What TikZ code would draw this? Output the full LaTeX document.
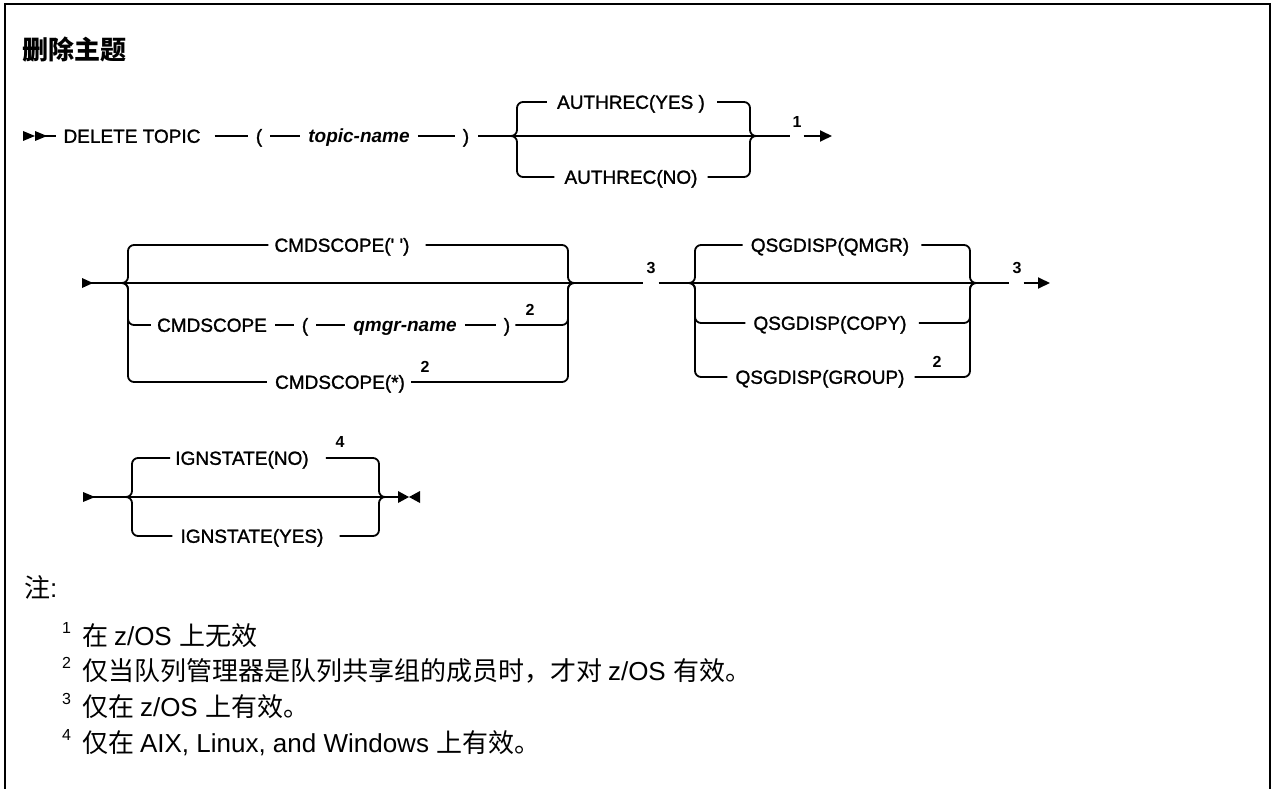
\documentclass[tikz,border=0pt]{standalone}
\usepackage{fontspec}
\usetikzlibrary{arrows.meta,calc}
\newfontfamily\diagfont[FakeBold=1.3]{Liberation Sans}
\newfontfamily\plainsans{Liberation Sans}
\newfontfamily\cjkfont{Noto Sans CJK SC}
\begin{document}
\begin{tikzpicture}[x=1pt,y=-1pt,
  rr/.style={line width=1.8pt},
  seg/.style={rr, shorten <=8pt, shorten >=8pt},
  brace/.style={rr, rounded corners=6pt},
  kw/.style={font=\diagfont\fontsize{19}{22}\selectfont, inner sep=0pt, text height=13.6pt, text depth=0pt},
  var/.style={kw, font=\plainsans\bfseries\itshape\fontsize{19}{22}\selectfont},
  fnm/.style={font=\plainsans\bfseries\fontsize{16}{18}\selectfont, inner sep=0pt},
  note/.style={font=\cjkfont\fontsize{26}{30}\selectfont, inner sep=0pt, anchor=base west},
  notesup/.style={font=\plainsans\fontsize{16}{18}\selectfont, inner sep=0pt, anchor=base west},
  tip/.style={-{Triangle[length=12pt,width=11pt]}}
]
\useasboundingbox (0,0) rectangle (1274,789);
% frame (open at the bottom)
\draw[line width=2pt] (5,789) -- (5,4) -- (1270,4) -- (1270,789);

% title
\node[anchor=west, inner sep=0pt, font=\cjkfont\bfseries\fontsize{26}{30}\selectfont] (title) at (22,50) {删除主题};

% ---------------- row 1 ----------------
\fill (23,131) -- (35,136) -- (23,141) -- cycle;
\fill (35,131) -- (47,136) -- (35,141) -- cycle;
\coordinate (s1) at (40,136);
\node[kw] (dt) at (132,136) {DELETE TOPIC};
\node[kw] (lp1) at (259,136) {(};
\node[var] (tn) at (359,136) {topic-name};
\node[kw] (rp1) at (466,136) {)};
\draw[rr] (s1) -- ([xshift=-7]dt.west);
\draw[seg, shorten <=14pt] (dt.east) -- (lp1.west);
\draw[seg] (lp1.east) -- (tn.west);
\draw[seg] (tn.east) -- (rp1.west);

\coordinate (L1) at (510,136);
\coordinate (R1) at (757,136);
\node[kw] (ay) at (631,102) {AUTHREC(YES )};
\node[kw] (an) at (631,177) {AUTHREC(NO)};
\node[fnm] (fn1) at (797,122) {1};
\coordinate (e1) at (832,136);
\draw[rr] ([xshift=9]rp1.east) -- (L1) -- (R1) -- ($(fn1.west |- R1)+(-2,0)$);
\draw[rr, tip] ($(fn1.east |- R1)+(2,0)$) -- (e1);
\draw[brace] (L1) -| (517,102) -- ([xshift=-10]ay.west);
\draw[brace] ([xshift=12]ay.east) -| (750,136) -- (R1);
\draw[brace] (L1) -| (517,177) -- ([xshift=-10]an.west);
\draw[brace] ([xshift=10]an.east) -| (750,136) -- (R1);

% ---------------- row 2 ----------------
\fill (82,278) -- (93,283) -- (82,288) -- cycle;
\coordinate (s2) at (90,283);
\coordinate (L2) at (122,283);
\coordinate (R2) at (575,283);
\node[kw] (cq) at (342,245) {CMDSCOPE(\textquotesingle\ \textquotesingle)};
\node[kw] (cs) at (212,325) {CMDSCOPE};
\node[kw] (lp2) at (305,325) {(};
\node[var] (qn) at (405,325) {qmgr-name};
\node[kw] (rp2) at (507,325) {)};
\node[fnm] (fn2a) at (530,310) {2};
\node[kw] (cst) at (340,382) {CMDSCOPE(*)};
\node[fnm] (fn2b) at (425,367) {2};
\node[fnm] (fn3a) at (651,268) {3};
\draw[rr] (s2) -- (L2) -- (R2) -- ($(fn3a.west |- R2)+(-3,0)$);
\draw[brace] (L2) -| (128,245) -- ([xshift=-6]cq.west);
\draw[brace] ([xshift=16]cq.east) -| (568,283) -- (R2);
\draw[brace] (L2) -| (128,325) -- ([xshift=-6]cs.west);
\draw[seg] (cs.east) -- (lp2.west);
\draw[seg] (lp2.east) -- (qn.west);
\draw[seg] (qn.east) -- (rp2.west);
\draw[brace] ([xshift=5]rp2.east) -| (568,283) -- (R2);
\draw[brace] (L2) -| (128,382) -- ([xshift=-8]cst.west);
\draw[brace] ([xshift=6]cst.east) -| (568,283) -- (R2);

\coordinate (L3) at (690,283);
\coordinate (R3) at (977,283);
\node[kw] (qm) at (830,245) {QSGDISP(QMGR)};
\node[kw] (qc) at (830,323) {QSGDISP(COPY)};
\node[kw] (qg) at (820,377) {QSGDISP(GROUP)};
\node[fnm] (fn2c) at (937,362) {2};
\node[fnm] (fn3b) at (1017,268) {3};
\coordinate (e2) at (1050,283);
\draw[rr] ($(fn3a.east |- R2)+(3,0)$) -- (L3) -- (R3) -- ($(fn3b.west |- R3)+(-3,0)$);
\draw[rr, tip] ($(fn3b.east |- R3)+(2,0)$) -- (e2);
\draw[brace] (L3) -| (695,245) -- ([xshift=-8]qm.west);
\draw[brace] ([xshift=12]qm.east) -| (970,283) -- (R3);
\draw[brace] (L3) -| (695,323) -- ([xshift=-8]qc.west);
\draw[brace] ([xshift=12]qc.east) -| (970,283) -- (R3);
\draw[brace] (L3) -| (695,377) -- ([xshift=-8]qg.west);
\draw[brace] ([xshift=10]qg.east) -| (970,283) -- (R3);

% ---------------- row 3 ----------------
\fill (83,492) -- (95,497) -- (83,502) -- cycle;
\coordinate (s4) at (90,497);
\coordinate (L4) at (127,497);
\coordinate (R4) at (386,497);
\node[kw] (ino) at (242,458) {IGNSTATE(NO)};
\node[kw] (iye) at (252,536) {IGNSTATE(YES)};
\node[fnm] (fn4) at (340,442) {4};
\coordinate (end4) at (398,497);
\draw[rr] (s4) -- (L4) -- (R4) -- (end4);
\fill (398,491) -- (409,497) -- (398,503) -- cycle;
\fill (420,491) -- (409,497) -- (420,503) -- cycle;
\draw[brace] (L4) -| (132,458) -- ([xshift=-5]ino.west);
\draw[brace] ([xshift=17]ino.east) -| (379,497) -- (R4);
\draw[brace] (L4) -| (132,536) -- ([xshift=-8]iye.west);
\draw[brace] ([xshift=16]iye.east) -| (379,497) -- (R4);

% ---------------- notes ----------------
\node[note] (zhu) at (24,597) {注\plainsans :};
\node[notesup] (m1) at (62,633) {1};
\node[note] (n1) at (82,645) {在 \plainsans z/OS \cjkfont 上无效};
\node[notesup] (m2) at (62,668) {2};
\node[note] (n2) at (82,680) {仅当队列管理器是队列共享组的成员时，才对 \plainsans z/OS \cjkfont 有效。};
\node[notesup] (m3) at (62,704) {3};
\node[note] (n3) at (82,716) {仅在 \plainsans z/OS \cjkfont 上有效。};
\node[notesup] (m4) at (62,740) {4};
\node[note] (n4) at (82,752) {仅在 \plainsans AIX, Linux, and Windows \cjkfont 上有效。};
\end{tikzpicture}
\end{document}
